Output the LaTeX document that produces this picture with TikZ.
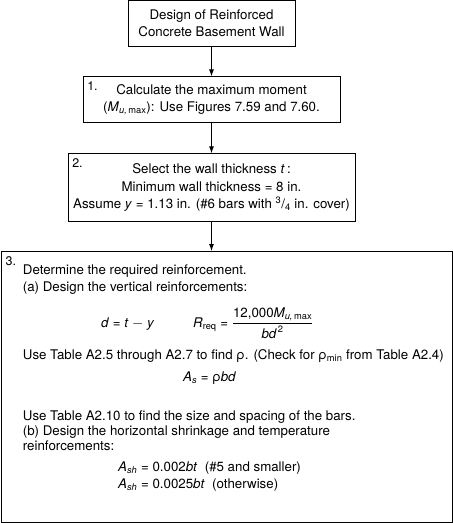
\documentclass[tikz,border=0pt]{standalone}
\usepackage{amsmath}
\usepackage{fontspec}
\setmainfont{TeX Gyre Heros}
\usetikzlibrary{arrows.meta, positioning}

\begin{document}
\begin{tikzpicture}[
    x=1pt, y=1pt,
    node distance=30pt,
    box/.style={draw, line width=0.9pt, inner sep=0pt, align=center, font=\fontsize{13.3}{16.5}\selectfont},
    arrow/.style={-{Latex[length=7pt, width=5pt]}, line width=0.9pt},
    num/.style={anchor=north west, inner sep=0pt, font=\fontsize{12.5}{14}\selectfont},
    txt/.style={anchor=base west, inner sep=0pt, font=\fontsize{13.3}{16}\selectfont},
]
\useasboundingbox (0,0) rectangle (453,-523);

% Steps
\node[box, minimum width=167pt, minimum height=46pt] (design) at (211.5,-23) {Design of Reinforced\\Concrete Basement Wall};
\node[box, minimum width=257pt, minimum height=46pt, below=30pt of design] (moment) {Calculate the maximum moment\\(\textit{M}$_{\textit{u,}\,\text{max}}$): Use Figures 7.59 and 7.60.};
\node[box, minimum width=287pt, minimum height=68pt, below=30pt of moment, font=\fontsize{13.3}{17.5}\selectfont] (thick) {Select the wall thickness \textit{t}\,:\\Minimum wall thickness = 8 in.\\Assume \textit{y} = 1.13 in. (\#6 bars with \textsuperscript{3}/\textsubscript{4} in. cover)};
\node[box, minimum width=451pt, minimum height=271pt, anchor=north west] (reinf) at (1,-251) {};

% Arrows
\draw[arrow] (design) -- (moment);
\draw[arrow] (moment) -- (thick);
\draw[arrow] (thick.south) -- (thick.south |- reinf.north);

% Step numbers
\node[num] (n1) at ([shift={(4.5,-5)}]moment.north west) {1.};
\node[num] (n2) at ([shift={(4.5,-5)}]thick.north west) {2.};
\node[num] (n3) at ([shift={(4.5,-5)}]reinf.north west) {3.};

% Step 3 contents
\node[txt] (l1) at ([shift={(21.7,-23)}]reinf.north west) {Determine the required reinforcement.};
\node[txt] (l2) at ([shift={(21.7,-40)}]reinf.north west) {(a) Design the vertical reinforcements:};
\node[txt] (eqd) at ([shift={(100,-76)}]reinf.north west) {\textit{d} = \textit{t} $-$ \textit{y}};
\node[txt] (eqr) at ([shift={(192,-76)}]reinf.north west) {\textit{R}$_{\text{req}}$ = $\dfrac{\text{12,000}\textit{M}_{\textit{u,}\,\text{max}}}{\textit{bd}^{\,\text{2}}}$};
\node[txt] (l3) at ([shift={(21.7,-108)}]reinf.north west) {Use Table A2.5 through A2.7 to find ρ. (Check for ρ$_{\text{min}}$ from Table A2.4)};
\node[txt] (eqas) at ([shift={(182,-130)}]reinf.north west) {\textit{A}$_{\textit{s}}$ = ρ\textit{bd}};
\node[txt] (l4) at ([shift={(21.7,-169)}]reinf.north west) {Use Table A2.10 to find the size and spacing of the bars.};
\node[txt] (l5) at ([shift={(21.7,-184)}]reinf.north west) {(b) Design the horizontal shrinkage and temperature};
\node[txt] (l6) at ([shift={(21.7,-199)}]reinf.north west) {reinforcements:};
\node[txt] (eqsh1) at ([shift={(117,-220)}]reinf.north west) {\textit{A}$_{\textit{sh}}$ = 0.002\textit{bt}\ \ (\#5 and smaller)};
\node[txt] (eqsh2) at ([shift={(117,-237)}]reinf.north west) {\textit{A}$_{\textit{sh}}$ = 0.0025\textit{bt}\ \ (otherwise)};

\end{tikzpicture}
\end{document}
